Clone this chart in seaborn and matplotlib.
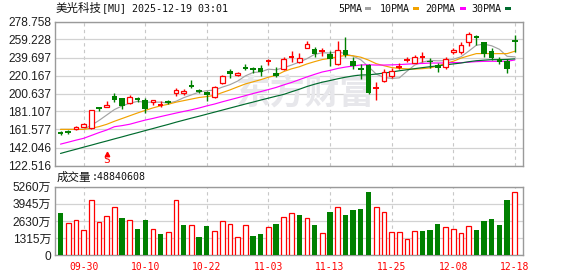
import numpy as np
import pandas as pd
import matplotlib
matplotlib.use("Agg")
import matplotlib.pyplot as plt
from matplotlib.patches import Rectangle
import seaborn as sns

# ---------------- data ----------------
dates = ["09-25", "09-26", "09-29", "09-30", "10-01", "10-02", "10-03", "10-06", "10-07", "10-08",
         "10-09", "10-10", "10-13", "10-14", "10-15", "10-16", "10-17", "10-20", "10-21", "10-22",
         "10-23", "10-24", "10-27", "10-28", "10-29", "10-30", "10-31", "11-03", "11-04", "11-05",
         "11-06", "11-07", "11-10", "11-11", "11-12", "11-13", "11-14", "11-17", "11-18", "11-19",
         "11-20", "11-21", "11-24", "11-25", "11-26", "11-28", "12-01", "12-02", "12-03", "12-04",
         "12-05", "12-08", "12-09", "12-10", "12-11", "12-12", "12-15", "12-16", "12-17", "12-18"]

opens = [158.2, 159.0, 161.8, 164.5, 163.0, 184.8, 186.5, 197.5, 195.7, 190.0,
         194.8, 193.6, 191.5, 187.6, 191.7, 201.0, 201.0, 209.8, 203.7, 202.3,
         197.2, 212.5, 225.3, 220.4, 229.0, 228.0, 228.0, 235.3, 223.3, 227.3,
         239.5, 235.3, 250.0, 249.0, 246.5, 243.5, 233.0, 248.0, 236.3, 227.5,
         231.5, 206.5, 214.6, 219.7, 229.3, 236.7, 234.1, 239.7, 236.3, 231.6,
         229.1, 245.8, 246.2, 257.0, 263.2, 256.3, 247.2, 237.8, 236.0, 258.0]
highs = [159.8, 160.9, 165.0, 168.3, 182.8, 186.5, 192.5, 201.2, 196.0, 198.5,
         197.0, 195.3, 193.6, 192.5, 193.5, 207.0, 205.8, 215.3, 205.6, 203.4,
         208.8, 220.4, 226.8, 223.8, 233.0, 229.0, 232.0, 238.2, 229.0, 240.0,
         246.9, 244.4, 258.0, 251.6, 250.5, 247.2, 257.8, 262.3, 240.7, 232.4,
         232.7, 212.8, 227.3, 228.0, 234.1, 240.0, 242.5, 245.5, 239.0, 234.1,
         240.7, 249.8, 256.3, 267.2, 264.3, 256.3, 249.8, 240.0, 238.2, 264.3]
lows = [155.5, 156.2, 161.5, 164.0, 162.5, 182.0, 185.6, 191.0, 184.0, 189.5,
        191.5, 179.7, 188.5, 186.3, 189.0, 198.0, 198.7, 207.0, 200.8, 192.8,
        195.4, 210.6, 217.2, 219.8, 226.5, 223.3, 219.7, 232.0, 219.0, 226.2,
        235.2, 234.1, 249.5, 240.0, 241.8, 231.0, 231.6, 240.0, 227.0, 216.4,
        200.0, 193.6, 213.5, 217.8, 227.0, 234.5, 233.5, 235.2, 228.7, 224.4,
        227.0, 243.3, 243.6, 252.4, 253.4, 240.7, 237.1, 232.4, 223.3, 246.1]
closes = [158.0, 158.7, 163.9, 167.4, 182.3, 184.5, 188.5, 193.1, 187.5, 197.0,
          194.5, 184.0, 193.2, 188.0, 191.4, 204.5, 203.5, 208.0, 203.4, 199.0,
          207.4, 219.7, 221.3, 223.0, 227.0, 225.8, 223.5, 235.9, 220.0, 238.0,
          240.0, 239.5, 254.5, 243.5, 247.0, 238.0, 247.5, 242.7, 230.8, 226.8,
          201.0, 207.3, 224.5, 225.2, 230.0, 237.1, 240.7, 240.3, 234.6, 228.0,
          237.8, 248.3, 253.4, 265.0, 260.7, 243.7, 239.0, 234.6, 227.0, 257.6]
# volume in 万 shares
volumes = [3261, 2491, 2670, 1977, 4211, 2542, 2979, 3672, 2850, 2670,
           2003, 2696, 2054, 1618, 1772, 4211, 2311, 2285, 1387, 2235,
           1900, 2594, 2363, 1438, 2285, 1463, 1618, 2157, 2414, 2928,
           3235, 3081, 2825, 2311, 1695, 3313, 3672, 3081, 3466, 3544,
           4853, 3672, 3287, 1772, 1772, 1283, 1849, 1849, 1926, 2388,
           2157, 2054, 1695, 2209, 1926, 2620, 2774, 2311, 4237, 4884]

ma5 = [161.7, 161.7, 161.7, 161.8, 166.1, 171.4, 177.3, 183.2, 187.2, 190.1,
       192.1, 191.2, 191.2, 191.3, 190.2, 192.2, 196.1, 199.1, 202.2, 203.7,
       204.3, 207.5, 210.2, 214.1, 219.7, 223.4, 224.1, 227.0, 226.4, 228.6,
       231.5, 234.7, 238.4, 243.1, 244.9, 244.5, 246.1, 243.7, 241.2, 237.2,
       229.8, 221.7, 218.1, 217.0, 217.6, 224.8, 231.5, 234.7, 236.5, 236.1,
       236.3, 237.8, 240.4, 246.5, 253.0, 254.2, 252.4, 248.6, 241.0, 240.4]
ma10 = [161.7, 161.7, 161.7, 161.7, 162.9, 164.7, 167.2, 170.5, 173.5, 176.5,
        179.5, 182.3, 185.0, 187.2, 189.0, 191.2, 192.9, 194.6, 196.3, 197.3,
        198.6, 201.6, 204.5, 207.8, 211.0, 213.3, 215.6, 218.3, 220.3, 224.5,
        227.4, 229.6, 232.7, 235.2, 237.5, 238.8, 240.5, 242.0, 241.6, 240.0,
        236.9, 233.0, 230.8, 228.8, 227.8, 227.4, 227.1, 227.6, 228.4, 230.5,
        233.2, 235.6, 239.0, 241.5, 243.9, 244.0, 243.9, 243.9, 243.9, 246.5]
ma20 = [145.7, 147.8, 150.0, 152.0, 155.1, 158.2, 161.0, 164.6, 165.8, 167.3,
        169.6, 171.8, 173.6, 175.6, 177.5, 179.4, 181.2, 182.9, 184.9, 187.2,
        189.2, 191.6, 193.8, 196.0, 198.3, 200.6, 202.7, 204.9, 207.2, 210.0,
        212.6, 215.6, 218.6, 221.4, 224.0, 225.7, 227.8, 229.3, 230.5, 231.6,
        231.8, 231.5, 231.5, 231.7, 232.0, 232.5, 233.0, 233.2, 233.7, 233.7,
        233.8, 234.2, 234.1, 234.6, 235.2, 235.5, 235.6, 235.5, 235.6, 237.0]
ma30 = [135.6, 137.9, 140.1, 142.4, 144.6, 146.9, 149.1, 151.4, 153.6, 155.9,
        158.1, 160.4, 162.6, 164.9, 167.1, 169.5, 171.7, 173.9, 176.0, 178.2,
        180.4, 182.6, 184.8, 187.0, 189.2, 191.3, 193.5, 195.6, 197.7, 199.7,
        202.5, 205.2, 208.2, 210.7, 212.9, 214.7, 216.6, 218.3, 219.7, 220.7,
        220.9, 221.7, 222.8, 224.0, 225.3, 226.4, 227.6, 228.7, 229.7, 230.7,
        231.7, 232.7, 233.7, 235.1, 236.2, 236.8, 237.4, 237.3, 237.6, 238.2]

price_ticks = [122.516, 142.046, 161.577, 181.107, 200.637, 220.167, 239.697, 259.228, 278.758]
price_tick_labels = ["122.516", "142.046", "161.577", "181.107", "200.637",
                     "220.167", "239.697", "259.228", "278.758"]
vol_ticks = [0, 1315, 2630, 3945, 5260]
vol_tick_labels = ["0", "1315万", "2630万", "3945万", "5260万"]
xlabel_dates = ["09-30", "10-10", "10-22", "11-03", "11-13", "11-25", "12-08", "12-18"]

ma_names = ["5PMA", "10PMA", "20PMA", "30PMA"]
ma_colors = ["#a3a3a3", "#f2a200", "#ff00ff", "#006b2e"]

title_name = "美光科技"
title_rest = "[MU] 2025-12-19 03:01"
vol_title = "成交量"
vol_value = ":48840608"
signal_label = "S"
signal_index = 6
watermark = "东方财富"

# ---------------- styling ----------------
sns.set_theme(style="white")
plt.rcParams["font.family"] = ["Liberation Sans", "Noto Sans CJK SC", "DejaVu Sans"]

RED = "#ff0000"
GREEN = "#008000"
GRID = "#d2d2d2"
FRAME = "#9a9a9a"
W, H = 578, 276

df = pd.DataFrame({"date": dates, "open": opens, "high": highs, "low": lows,
                   "close": closes, "volume": volumes,
                   "5PMA": ma5, "10PMA": ma10, "20PMA": ma20, "30PMA": ma30})
df["idx"] = np.arange(len(df))

fig = plt.figure(figsize=(W / 100, H / 100), dpi=100)
fig.patch.set_facecolor("white")


def fig_axes(left, top, right, bottom):
    return fig.add_axes([left / W, 1 - bottom / H, (right - left) / W, (bottom - top) / H])


ax = fig_axes(54.5, 21.5, 522.5, 165.5)
axv = fig_axes(54.5, 186.7, 522.5, 255.3)

xlim = (-0.78, 60.0)
tick_pos = [dates.index(d) for d in xlabel_dates]

for a in (ax, axv):
    a.set_facecolor("white")
    for s in a.spines.values():
        s.set_color(FRAME)
        s.set_linewidth(1.0)
    a.set_xlim(*xlim)
    a.set_xticks(tick_pos)
    a.set_axisbelow(True)
    a.grid(axis="x", color="#c8c8c8", linestyle=(0, (3, 3)), linewidth=0.8)
    a.grid(axis="y", color=GRID, linestyle="-", linewidth=0.9)
    a.tick_params(axis="y", length=2, width=0.8, color=FRAME, pad=0.5,
                  labelsize=8.6, labelcolor="#1e1e1e")

# ---------- price panel ----------
ax.set_ylim(price_ticks[0], price_ticks[-1])
ax.set_yticks(price_ticks)
ax.set_yticklabels(price_tick_labels)
ax.tick_params(axis="x", length=0, labelbottom=False)

# watermark
ax.text(0.536, 0.50, watermark, transform=ax.transAxes, ha="center", va="center",
        fontsize=25, fontweight="bold", color="#e7e7eb", family=["Noto Sans CJK SC"], zorder=0.6)

# moving averages via seaborn
for name, col in zip(ma_names, ma_colors):
    sns.lineplot(data=df, x="idx", y=name, ax=ax, color=col, linewidth=0.85,
                 legend=False, zorder=2)
ax.set_xlabel("")
ax.set_ylabel("")

# candles
for i, r in df.iterrows():
    up = r["close"] >= r["open"]
    col = RED if up else GREEN
    x = r["idx"]
    ax.vlines(x, r["low"], r["high"], color=col, linewidth=1.0, zorder=3)
    body = abs(r["close"] - r["open"])
    lo = min(r["close"], r["open"])
    if body < 0.9:
        ax.hlines((r["close"] + r["open"]) / 2, x - 0.37, x + 0.37, color=col,
                  linewidth=1.4, zorder=4)
    elif up:
        ax.bar(x, body, bottom=lo, width=0.6, facecolor="white", edgecolor=col,
               linewidth=0.9, zorder=4)
    else:
        ax.bar(x, body, bottom=lo, width=0.72, color=col, linewidth=0, zorder=4)

# signal marker
ax.plot([signal_index], [134.6], marker="^", markersize=3.2, color=RED, clip_on=False, zorder=5)
ax.text(signal_index, 128.6, signal_label, color=RED, ha="center", va="center",
        fontsize=8, family=["DejaVu Sans Mono"], clip_on=False, zorder=5)

# ---------- volume panel ----------
axv.set_ylim(vol_ticks[0], vol_ticks[-1])
axv.set_yticks(vol_ticks)
axv.set_yticklabels(vol_tick_labels)
axv.set_xticklabels(xlabel_dates)
axv.tick_params(axis="x", length=0, pad=5, labelsize=7.0, labelcolor=RED)
for t in axv.get_xticklabels():
    t.set_family(["DejaVu Sans Mono"])
for i, r in df.iterrows():
    if i == 0:
        vup = r["close"] >= r["open"]
    else:
        vup = r["close"] >= df.loc[i - 1, "close"]
    if vup:
        axv.bar(r["idx"], r["volume"], width=0.6, facecolor="white", edgecolor=RED,
                linewidth=0.9, zorder=3)
    else:
        axv.bar(r["idx"], r["volume"], width=0.7, color=GREEN, linewidth=0, zorder=3)
axv.set_xlabel("")
axv.set_ylabel("")

# ---------- header texts ----------
def ftext(x, y, s, **kw):
    fig.text(x / W, 1 - y / H, s, va="center", ha="left", **kw)


ftext(56, 8.3, title_name, fontsize=8.3, color="#111111", family=["Noto Sans CJK SC"])
ftext(102.5, 8.5, title_rest, fontsize=7.2, color="#111111", family=["DejaVu Sans Mono"])
ftext(57, 177.3, vol_title, fontsize=8.3, color="#111111", family=["Noto Sans CJK SC"])
ftext(92, 177.5, vol_value, fontsize=7.2, color="#111111", family=["DejaVu Sans Mono"])

legend_x = [338.3, 380.0, 425.0, 471.7]
square_x = [365.3, 413.3, 460.0, 505.0]
for name, col, lx, sx in zip(ma_names, ma_colors, legend_x, square_x):
    ftext(lx, 8.7, name, fontsize=7.2, color="#111111", family=["DejaVu Sans Mono"])
    fig.patches.append(Rectangle((sx / W, 1 - 10.3 / H), 5.7 / W, 3.2 / H,
                                 transform=fig.transFigure, facecolor=col,
                                 edgecolor="none", figure=fig))

fig.savefig("out.png", dpi=100, facecolor="white")
